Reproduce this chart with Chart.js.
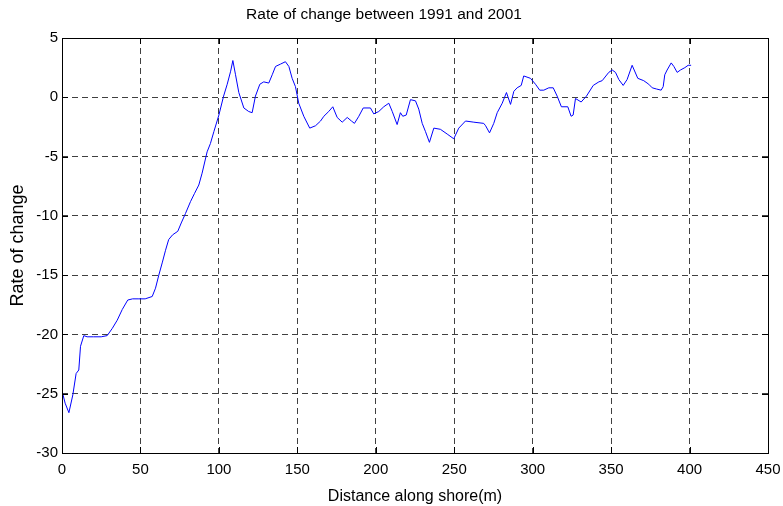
<!DOCTYPE html>
<html>
<head>
<meta charset="utf-8">
<script src="https://cdn.jsdelivr.net/npm/chart.js@4"></script>
<style>
  html, body { margin: 0; padding: 0; background: #fff; }
  #wrap { width: 783px; height: 506px; }
</style>
</head>
<body>
<div id="wrap"><canvas id="chart" width="783" height="506"></canvas></div>
<script>
const chartTitle = 'Rate of change between 1991 and 2001';
const xLabel = 'Distance along shore(m)';
const yLabel = 'Rate of change';

// distance along shore (m)
const distance = [
  0, 2, 4.4, 6.9, 9, 10.7, 11.8, 13.9, 16, 20, 25, 28.8, 32, 35.2, 38.4, 41.9, 45, 49, 53, 57.5,
  59.6, 61.7, 64, 66, 68, 70.5, 73.8, 76, 78.7, 81.9, 84.5, 87.2, 89.3, 92.5, 94.6, 96.8, 100, 103, 105.3, 107.5,
  108.9, 110.6, 112.7, 115.9, 119, 121.2, 123.3, 126.1, 128.6, 131.8, 134, 136.1, 139.3, 142.4, 144.6, 146.7, 148.8, 150.9, 154.1, 157.9,
  161.6, 164.8, 166.9, 170, 172.6, 175.4, 178.6, 181.8, 184.5, 186.4, 189.2, 192, 196.6, 198.7, 201.9, 205.1, 208.3, 210.5, 213.6, 215.7,
  217.2, 219.4, 222.1, 225.3, 227.4, 229.6, 231.7, 234.2, 237, 241.2, 245.5, 249.7, 252.9, 257.2, 262.5, 268.8, 270, 272.5, 275.2, 277.4,
  280.6, 283.3, 285.9, 288, 290.1, 292.7, 294.3, 298.6, 301.8, 304.5, 307.1, 310.3, 313.1, 315.6, 318.3, 322.4, 324.5, 325.8, 327.3, 330.9,
  334.3, 338.6, 342.2, 344.3, 348.5, 350.7, 352.8, 354.9, 357.7, 360.2, 363.4, 367, 370.8, 374, 376.2, 378.9, 381.9, 383.2, 384.2, 385.7,
  388.3, 390, 392.1, 394.2, 397, 399.1, 401
];

// rate of change
const rate = [
  -24.75, -25.8, -26.6, -25.1, -23.3, -23.0, -21.0, -20.1, -20.2, -20.2, -20.2, -20.1, -19.5, -18.8, -17.9, -17.1, -17.0, -17.0, -17.0, -16.8,
  -16.1, -15.0, -13.9, -12.9, -12.0, -11.6, -11.3, -10.6, -9.8, -8.8, -8.1, -7.4, -6.4, -4.6, -3.9, -2.9, -1.5, 0.1, 1.1, 2.2,
  3.1, 1.9, 0.4, -0.9, -1.2, -1.3, 0.1, 1.1, 1.3, 1.2, 1.9, 2.6, 2.8, 3.0, 2.6, 1.6, 0.9, -0.5, -1.6, -2.6,
  -2.4, -2.0, -1.6, -1.2, -0.8, -1.7, -2.1, -1.7, -2.0, -2.2, -1.6, -0.9, -0.9, -1.4, -1.2, -0.8, -0.5, -1.2, -2.3, -1.3,
  -1.6, -1.5, -0.2, -0.3, -1.0, -2.2, -2.9, -3.8, -2.6, -2.7, -3.1, -3.5, -2.6, -2.0, -2.1, -2.2, -2.4, -3.0, -2.2, -1.3,
  -0.5, 0.4, -0.6, 0.5, 0.8, 1.0, 1.8, 1.6, 1.1, 0.6, 0.6, 0.8, 0.8, 0.1, -0.8, -0.8, -1.6, -1.5, -0.1, -0.4,
  0.1, 1.0, 1.3, 1.4, 2.1, 2.3, 2.1, 1.5, 1.0, 1.5, 2.7, 1.6, 1.4, 1.1, 0.8, 0.7, 0.6, 0.9, 1.9, 2.3,
  2.9, 2.6, 2.1, 2.3, 2.5, 2.7, 2.7
];

const xMin = 0, xMax = 450, xStep = 50;
const yMin = -30, yMax = 5, yStep = 5;

const fontFamily = "'Liberation Sans Narrow', 'Liberation Sans', Arial, sans-serif";

// box around the plot and inward ticks, like the original figure
const boxPlugin = {
  id: 'box',
  afterDraw(chart) {
    const ctx = chart.ctx;
    const a = chart.chartArea;
    const xs = chart.scales.x, ys = chart.scales.y;
    ctx.save();
    ctx.strokeStyle = '#000';
    ctx.lineWidth = 1;
    ctx.setLineDash([]);
    ctx.strokeRect(a.left + 0.5, a.top + 0.5, a.right - a.left, a.bottom - a.top);
    ctx.beginPath();
    xs.ticks.forEach(t => {
      const px = Math.round(xs.getPixelForValue(t.value)) + 0.5;
      ctx.moveTo(px, a.bottom); ctx.lineTo(px, a.bottom - 6);
      ctx.moveTo(px, a.top); ctx.lineTo(px, a.top + 6);
    });
    ys.ticks.forEach(t => {
      const py = Math.round(ys.getPixelForValue(t.value)) + 0.5;
      ctx.moveTo(a.left, py); ctx.lineTo(a.left + 6, py);
      ctx.moveTo(a.right, py); ctx.lineTo(a.right - 6, py);
    });
    ctx.stroke();
    ctx.restore();
  }
};

const ctx = document.getElementById('chart').getContext('2d');
const myChart = new Chart(ctx, {
  type: 'line',
  data: {
    datasets: [{
      data: distance.map((d, i) => ({ x: d, y: rate[i] })),
      borderColor: '#0000ff',
      borderWidth: 1,
      pointRadius: 0,
      fill: false,
      tension: 0
    }]
  },
  options: {
    responsive: false,
    animation: false,
    layout: { padding: { left: 0, right: 15, top: 0, bottom: 0 } },
    plugins: {
      legend: { display: false },
      tooltip: { enabled: false },
      title: {
        display: true,
        text: chartTitle,
        color: '#000',
        font: { family: fontFamily, size: 15.5, weight: 'normal' },
        padding: { top: 5, bottom: 14.4 }
      }
    },
    scales: {
      x: {
        type: 'linear',
        min: xMin, max: xMax,
        ticks: { stepSize: xStep, color: '#000', padding: 8, maxRotation: 0,
                 font: { family: fontFamily, size: 15 } },
        grid: { color: 'rgba(0,0,0,0.75)', lineWidth: 1, drawTicks: false },
        border: { display: false, dash: [6, 4] },
        title: { display: true, text: xLabel, color: '#000', padding: { top: 2, bottom: 0 },
                 font: { family: fontFamily, size: 16 } },
        afterFit(scale) {
          scale.height = 53;
          scale.paddingLeft = 0;
          scale.paddingRight = 0;
        }
      },
      y: {
        type: 'linear',
        min: yMin, max: yMax,
        ticks: { stepSize: yStep, color: '#000', padding: 4,
                 font: { family: fontFamily, size: 15 } },
        grid: { color: 'rgba(0,0,0,0.75)', lineWidth: 1, drawTicks: false },
        border: { display: false, dash: [6, 4] },
        title: { display: true, text: yLabel, color: '#000', padding: { top: 7, bottom: 4 },
                 font: { family: fontFamily, size: 18 } },
        afterFit(scale) {
          scale.width = 62;
          scale.paddingTop = 0;
          scale.paddingBottom = 0;
        }
      }
    }
  },
  plugins: [boxPlugin]
});
</script>
</body>
</html>
